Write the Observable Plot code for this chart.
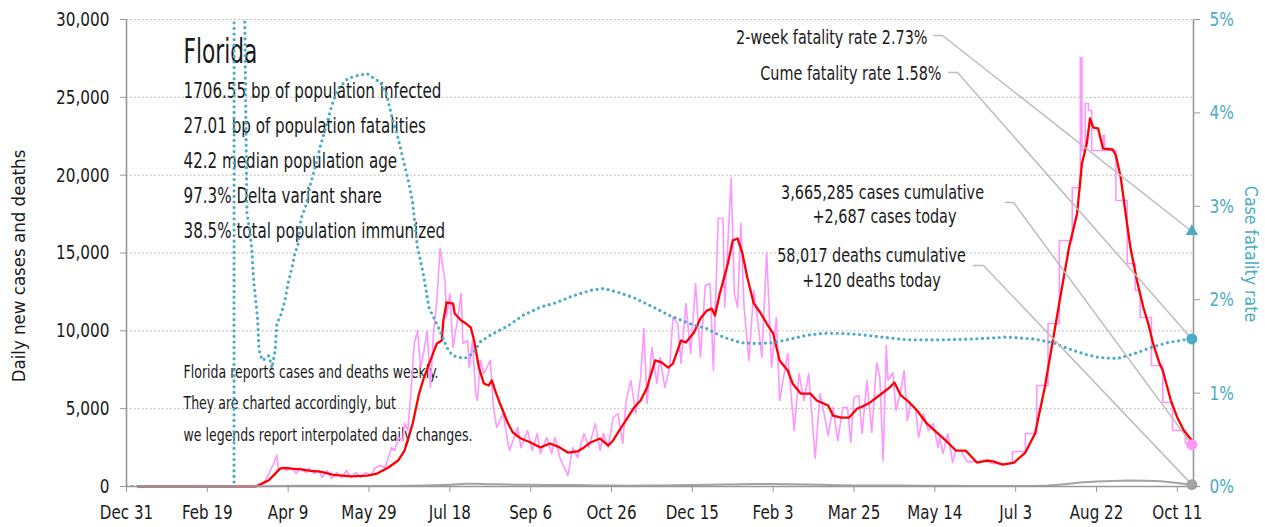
<!DOCTYPE html>
<html><head><meta charset="utf-8">
<script src="https://cdn.jsdelivr.net/npm/d3@7"></script>
<script src="https://cdn.jsdelivr.net/npm/@observablehq/plot@0.6"></script>
<style>
html,body{margin:0;padding:0;background:#fff;}
</style></head><body><div id="chart"></div>
<script>
// ---------- DATA (days are counted from 2019-12-31) ----------
const state = "Florida";
const statLines = [
  "1706.55 bp of population infected",
  "27.01 bp of population fatalities",
  "42.2 median population age",
  "97.3% Delta variant share",
  "38.5% total population immunized"
];
const noteLines = [
  "Florida reports cases and deaths weekly.",
  "They are charted accordingly, but",
  "we legends report interpolated daily changes."
];
const cumCases = "3,665,285", todayCases = 2687, cumDeaths = "58,017", todayDeaths = 120;
const twoWeekCFR = 2.73, cumeCFR = 1.58;
const lastDay = 659;

const xTickDates = ["2019-12-31","2020-02-19","2020-04-09","2020-05-29","2020-07-18","2020-09-06","2020-10-26",
  "2020-12-15","2021-02-03","2021-03-25","2021-05-14","2021-07-03","2021-08-22","2021-10-11"];
const leftTicks = [0, 5000, 10000, 15000, 20000, 25000, 30000];
const rightTicksPct = [0, 1, 2, 3, 4, 5];

// 7-day average of new cases
const avgDay = [7,80,85,88,92,95,98,102,108,114,120,128,139,149,155,162,168,172,177,181,184,188,192,195,196,198,202,203,207,210,213,215,218,221,224,226,228,231,236,239,244,250,256,262,268,273,279,283,287,293,298,301,306,310,314,318,322,327,331,335,338,343,346,351,355,359,362,364,367,372,375,378,381,384,388,392,396,400,404,409,412,417,423,427,434,437,442,447,452,454,460,468,472,475,479,483,489,495,502,508,513,519,526,532,536,542,549,556,562,568,573,578,583,588,591,594,596,598,601,604,610,612,615,618,621,625,629,632,635,639,641,646,650,654,659];
const avgCases = [0,0,250,400,830,1150,1200,1150,1100,1000,950,750,650,700,830,1220,1670,2310,4050,5970,7000,8100,9190,9380,10660,11820,11750,11110,10660,10470,10210,9380,7640,6620,6490,6810,6170,5330,4050,3470,3080,2830,2510,2760,2510,2180,2250,2510,2830,3080,2630,2960,3790,4430,5080,5520,6360,8100,7970,7640,7900,9380,9250,9890,10790,11300,11430,10980,12400,14330,15800,15930,14970,13430,11760,11180,10470,9830,8100,7450,6620,5970,5970,5520,5200,4560,4430,4430,5010,5080,5400,6040,6360,6680,5850,5520,4880,4050,3400,2830,2310,2310,1540,1670,1610,1410,1540,2180,3400,6360,9380,12400,15350,17540,20750,22030,23640,23060,23000,21710,21650,21260,19850,17540,15350,13230,11500,10470,9190,7900,7450,5520,4430,3600,2950];

// daily new cases while reported daily
const dailyDay = [7,75,80,83,85,87,89,91,93,94,96,99,102,105,107,111,113,116,119,121,124,127,130,133,136,139,142,145,148,151,154,157,160,162,164,166,168,171,172,174,176,178,180,182,184,186,188,190,192,194,197,198,200,202,205,207,208,211,212,214,216,217,219,221,225,227,229,231,233,236,237,242,244,248,251,254,256,260,263,265,268,273,276,279,283,286,290,293,295,298,301,304,307,309,312,315,318,320,322,325,328,330,333,336,338,341,343,346,349,352,355,358,361,363,366,369,370,374,376,378,380,382,385,388,391,393,396,399,402,404,409,413,416,419,422,426,429,432,434,437,440,443,446,448,450,453,455,458,461,464,466,468,470,471,474,476,479,481,483,485,488,490,493,496,499,502,503,505,508,511,513,516,520];
const dailyCases = [0,0,60,120,190,600,1030,1480,2000,1030,1220,1030,1220,830,1220,900,1160,830,1030,580,1030,510,900,580,1030,580,900,580,900,700,1220,1350,1220,1860,2500,2310,3150,2950,4050,3600,6170,9190,10000,7640,8740,10000,6360,10000,11950,15300,13230,10860,12400,8930,10860,12400,9190,9380,7640,9380,5970,5520,8100,7260,8100,5070,3790,4240,4690,2760,2310,3790,2500,3600,2310,3400,2120,3150,2120,3150,1860,700,2500,1860,3400,2500,4050,2310,3400,2500,4430,4690,2760,5520,6810,4690,7000,10150,5330,8930,6620,8290,6360,7640,10860,10470,7900,11760,8540,13040,8290,12910,13040,7450,17220,17220,11500,19790,12400,11500,16900,11500,8100,12590,10210,8290,15030,7640,10860,5520,8540,3600,7260,5520,7260,1800,5970,4430,3280,5070,2950,5070,5070,2830,5720,5850,3400,6810,3470,7970,7000,1670,9060,6810,7320,4880,6170,7450,4240,5330,5070,3150,4690,3600,4050,2500,3150,2120,3400,1540,2310,2310,1600];

// new cases after the switch to weekly reporting (step values)
const weeklyDay = [520,535,548,556,563,570,577,585,590,591,593,595,597,604,605,612,619,624,627,634,641,647,655,659];
const weeklyCases = [1600,1480,2250,3400,6490,10470,15800,19200,27560,21580,24600,24150,21580,22550,21580,18370,14330,12590,10860,7770,5400,3600,2760,2687];

// daily deaths
const deathDay = [7,66,75,85,95,105,115,125,135,145,155,165,175,185,195,200,205,210,215,220,225,230,240,250,260,270,280,290,300,310,320,330,340,350,360,370,380,390,400,410,420,430,440,450,460,470,480,490,500,510,520,530,540,550,560,570,580,590,600,610,620,630,640,650,659];
const deaths = [0,0,5,15,35,50,55,45,40,35,35,35,45,70,100,120,150,170,180,165,150,140,120,110,100,95,90,70,60,55,60,70,85,95,110,130,150,160,165,150,130,110,85,70,65,60,60,55,50,45,40,35,30,30,40,70,150,250,320,360,380,370,330,230,120];

// case fatality rate, percent
const cfrDay = [0,66.5,67,72,72.5,74.5,76,77.5,78.5,81,82,84,86,88,90,92,93,95,98,100,103,104,106,108,111,114,117,120,123,127,131,137,143,149,153,157,161,164,168,171,174,177,180,181,184,187,193,199,202,209,214,219,225,236,245,256,266,276,287,295,304,314,326,336,349,359,369,380,390,400,411,421,431,441,452,462,483,503,524,545,561,573,582,592,602,613,623,634,644,654,659];
const cfrPct = [0,0,40,40,6,2.93,2.76,2.55,2.24,1.81,1.46,1.35,1.37,1.40,1.27,1.46,1.75,1.81,1.99,2.18,2.39,2.49,2.58,2.87,3.01,3.25,3.44,3.65,3.83,4.08,4.26,4.37,4.40,4.42,4.37,4.33,4.19,3.97,3.73,3.51,3.30,3.04,2.55,2.49,2.24,1.92,1.70,1.46,1.40,1.37,1.42,1.55,1.62,1.72,1.83,1.92,1.97,2.04,2.10,2.12,2.08,2.02,1.92,1.83,1.74,1.69,1.60,1.54,1.53,1.54,1.58,1.62,1.64,1.64,1.63,1.61,1.57,1.57,1.58,1.60,1.58,1.54,1.48,1.42,1.38,1.37,1.42,1.49,1.54,1.57,1.58];

// ---------- CHART ----------
const FONT = '"Liberation Sans Narrow","Arial Narrow","DejaVu Sans Condensed","DejaVu Sans",sans-serif';
const teal = "#4aabc6", pink = "#ff96ff", red = "#ff0000", gray = "#a3a3a3", ink = "#1a1a1a";
const PCT = 6000;            // 1% on the right axis = 6,000 on the left axis
const W = 1265, H = 527;
const M = {top: 19, right: 72, bottom: 41, left: 126};
const startDate = new Date(Date.UTC(2019, 11, 31));
const endDate = new Date(Date.UTC(2021, 9, 21));
const day = n => new Date(startDate.getTime() + n * 864e5);
const rows = (ds, vs) => ds.map((d, i) => ({date: day(d), v: vs[i]}));

const avgRows = rows(avgDay, avgCases);
const dailyRows = rows(dailyDay, dailyCases);
const weeklyRows = rows(weeklyDay, weeklyCases);
const deathRows = rows(deathDay, deaths);
const cfrRows = rows(cfrDay, cfrPct.map(p => p * PCT));

// pixel -> data helper for annotation leader lines
const xS = d3.scaleUtc().domain([startDate, endDate]).range([M.left, W - M.right]);
const yS = d3.scaleLinear().domain([0, 30000]).range([H - M.bottom, M.top]);
const at = (px, py) => ({date: xS.invert(px), v: yS.invert(py)});
const last = day(lastDay);
const leaders = [
  [at(933, 35), at(942, 35), {date: last, v: twoWeekCFR * PCT}],
  [at(948, 72), at(957, 72), {date: last, v: cumeCFR * PCT}],
  [at(1005, 202), at(1013, 202), {date: last, v: todayCases}],
  [at(973, 265), at(983, 265), {date: last, v: todayDeaths}]
].flatMap((pts, k) => pts.map(p => ({...p, k})));

// horizontal narrowing per text, to match the reference's tall condensed face
const squeezeOf = new Map();
const label = (text, px, py, o = {}, f = 0.8) => {
  squeezeOf.set(text, f);
  return Plot.text([text], {
    text: d => d, frameAnchor: "top-left", dx: px - M.left, dy: py - M.top,
    lineAnchor: "bottom", textAnchor: "start", fontSize: 20, fill: ink, ...o
  });
};

const fmt = d3.utcFormat("%b %-d");
const chart = Plot.plot({
  width: W, height: H,
  marginTop: M.top, marginRight: M.right, marginBottom: M.bottom, marginLeft: M.left,
  style: {fontFamily: FONT, fontSize: "20px", color: ink, background: "#fff", overflow: "visible"},
  x: {type: "utc", domain: [startDate, endDate]},
  y: {domain: [0, 30000]},
  marks: [
    Plot.ruleY(leftTicks.filter(d => d > 0), {stroke: "#aaa", strokeDasharray: "1.5,2.5", strokeWidth: 1}),
    // texts (under the lines)
    label(state, 183, 62, {fontSize: 34}, 0.71),
    ...statLines.map((t, i) => label(t, 183, 97 + 35 * i, {fontSize: 22}, 0.765)),
    ...noteLines.map((t, i) => label(t, 183, 377 + 31.5 * i, {fontSize: 18}, 0.775)),
    label(`2-week fatality rate ${twoWeekCFR}%`, 927, 43, {textAnchor: "end"}),
    label(`Cume fatality rate ${cumeCFR}%`, 941, 79, {textAnchor: "end"}),
    label(`${cumCases} cases cumulative`, 882, 198, {textAnchor: "middle"}),
    label(`+${d3.format(",")(todayCases)} cases today`, 884, 222, {textAnchor: "middle"}),
    label(`${cumDeaths} deaths cumulative`, 871, 261, {textAnchor: "middle"}),
    label(`+${todayDeaths} deaths today`, 871, 286, {textAnchor: "middle"}),
    // series
    Plot.line(dailyRows, {x: "date", y: "v", stroke: pink, strokeWidth: 1.6}),
    Plot.line(weeklyRows, {x: "date", y: "v", stroke: pink, strokeWidth: 1.6, curve: "step-after"}),
    Plot.line(avgRows, {x: "date", y: "v", stroke: red, strokeWidth: 2.3}),
    Plot.line(deathRows, {x: "date", y: "v", stroke: gray, strokeWidth: 2}),
    Plot.line(cfrRows, {x: "date", y: "v", stroke: teal, strokeWidth: 3.2, strokeDasharray: "0,5.6", strokeLinecap: "round", clip: true}),
    // axis lines
    Plot.ruleX([startDate, endDate], {stroke: "#999", strokeWidth: 1.6}),
    Plot.ruleY([0], {stroke: "#999", strokeWidth: 1.6}),
    // leaders
    Plot.line(leaders, {x: "date", y: "v", z: "k", stroke: "#bdbdbd", strokeWidth: 1.5}),
    // end markers
    Plot.dot([{date: last, v: twoWeekCFR * PCT}], {x: "date", y: "v", symbol: "triangle", r: 4.6, fill: teal}),
    Plot.dot([{date: last, v: cumeCFR * PCT}], {x: "date", y: "v", r: 5.5, fill: teal}),
    Plot.dot([{date: last, v: todayCases}], {x: "date", y: "v", r: 5.5, fill: pink}),
    Plot.dot([{date: last, v: todayDeaths}], {x: "date", y: "v", r: 5.5, fill: gray}),
    // axes
    Plot.axisY({anchor: "left", ticks: leftTicks, tickFormat: d3.format(","), tickSize: 6, tickPadding: 11,
      fontSize: 20, stroke: "#999", fill: ink, label: null}),
    Plot.axisY({anchor: "right", ticks: rightTicksPct.map(p => p * PCT), tickFormat: d => `${d / PCT}%`,
      tickSize: 6, tickPadding: 10, fontSize: 20, stroke: "#999", fill: teal, label: null}),
    Plot.axisX({ticks: xTickDates.map(s => new Date(s + "T00:00:00Z")), tickFormat: fmt, tickSize: 6, tickPadding: 12,
      fontSize: 20, stroke: "#999", fill: ink, label: null}),
    Plot.text(["Daily new cases and deaths"], {text: d => d, frameAnchor: "left", dx: -107, dy: 13, rotate: -90,
      textAnchor: "middle", lineAnchor: "middle", fontSize: 18.5, fill: ink}),
    Plot.text(["Case fatality rate"], {text: d => d, frameAnchor: "right", dx: 57, dy: 1, rotate: 90,
      textAnchor: "middle", lineAnchor: "middle", fontSize: 18.5, fill: teal})
  ]
});
document.getElementById("chart").appendChild(chart);
squeezeOf.set("Case fatality rate", 0.95);

const tickSqueeze = {"y-axis tick label": 0.85, "x-axis tick label": 0.84};
chart.querySelectorAll("text").forEach(t => {
  let f = squeezeOf.get(t.textContent);
  if (f === undefined) {
    const g = t.closest("g[aria-label]");
    f = g ? tickSqueeze[g.getAttribute("aria-label")] : undefined;
  }
  if (!f || f === 1) return;
  const w = t.getComputedTextLength();
  t.setAttribute("textLength", (w * f).toFixed(1));
  t.setAttribute("lengthAdjust", "spacingAndGlyphs");
});
</script>
</body></html>
